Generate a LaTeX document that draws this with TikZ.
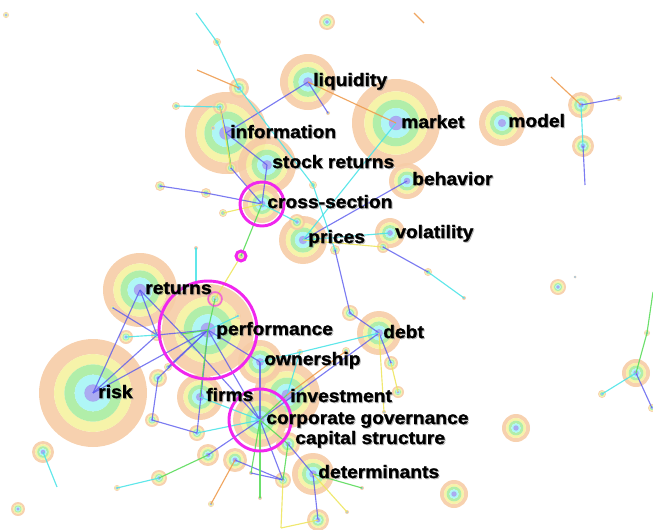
\documentclass[tikz,border=0pt]{standalone}
\usepackage{fontspec}
\newfontfamily\labfont{Liberation Sans}[FakeStretch=1.07,BoldFeatures={FakeBold=1.3}]
\definecolor{rpeach}{HTML}{F6CCA6}
\definecolor{ryellow}{HTML}{F5F2A0}
\definecolor{rgreen}{HTML}{A8ECA0}
\definecolor{rcyan}{HTML}{A6F5F5}
\definecolor{rpurple}{HTML}{A2A2F0}
\definecolor{eblue}{HTML}{5A5AEE}
\definecolor{ecyan}{HTML}{4EE4E8}
\definecolor{egreen}{HTML}{5CDC5C}
\definecolor{eyellow}{HTML}{EEE660}
\definecolor{eorange}{HTML}{EE9C50}
\definecolor{burst}{HTML}{F026EE}
% concentric time-slice rings of one keyword
\newcommand\bubble[2]{%
  \begin{scope}[fill opacity=0.9]
  \fill[rpeach,even odd rule] (#1) circle[radius=#2] circle[radius=0.72*#2];
  \fill[ryellow,even odd rule] (#1) circle[radius=0.72*#2] circle[radius=0.53*#2];
  \fill[rgreen,even odd rule] (#1) circle[radius=0.53*#2] circle[radius=0.34*#2];
  \fill[rcyan,even odd rule] (#1) circle[radius=0.34*#2] circle[radius=0.15*#2];
  \fill[rpurple] (#1) circle[radius=0.15*#2+0.6];
  \end{scope}}
\begin{document}
\begin{tikzpicture}[x=0.75pt,y=-0.75pt,
  lab/.style={anchor=base west,inner sep=0pt,text=black,
    font=\labfont\bfseries\fontsize{13.5}{16}\selectfont},
  labshade/.style={lab,text=black!45,text opacity=0.55},
  ebl/.style={draw=eblue,line width=0.85pt,opacity=0.8},
  ecy/.style={draw=ecyan,line width=0.85pt,opacity=0.9},
  egr/.style={draw=egreen,line width=0.85pt,opacity=0.9},
  eye/.style={draw=eyellow,line width=0.85pt,opacity=0.9},
  eor/.style={draw=eorange,line width=0.85pt,opacity=0.9},
  burstring/.style={draw=burst,line width=2.2pt}]
\useasboundingbox (0,0) rectangle (653,529);
% ---- keyword positions
\coordinate (liq) at (308,82);
\coordinate (info) at (226,133);
\coordinate (mkt) at (396,123);
\coordinate (model) at (502,123);
\coordinate (stock) at (267,165);
\coordinate (cross) at (262,204);
\coordinate (behav) at (407,181);
\coordinate (prices) at (303,240);
\coordinate (volat) at (390,233);
\coordinate (returns) at (140,290);
\coordinate (perf) at (208,330);
\coordinate (risk) at (93,393);
\coordinate (owner) at (260,362);
\coordinate (firms) at (200,397);
\coordinate (invest) at (287,395);
\coordinate (cg) at (260,420);
\coordinate (capstr) at (288,444);
\coordinate (determ) at (313,474);
\coordinate (debt) at (379,333);
% ---- minor keywords
\coordinate (a1) at (327,22);
\coordinate (a2) at (6,15);
\coordinate (a3) at (217,42);
\coordinate (a4) at (239,88);
\coordinate (a5) at (220,107);
\coordinate (a6) at (176,106);
\coordinate (a7) at (213,128);
\coordinate (a8) at (231,168);
\coordinate (a9) at (160,186);
\coordinate (a10) at (206,193);
\coordinate (a11) at (223,213);
\coordinate (a12) at (313,185);
\coordinate (a13) at (297,222);
\coordinate (a14) at (196,248);
\coordinate (a15) at (328,113);
\coordinate (a16) at (241,256);
\coordinate (a17) at (215,299);
\coordinate (a18) at (335,250);
\coordinate (a19) at (383,247);
\coordinate (a20) at (350,313);
\coordinate (a21) at (428,272);
\coordinate (a22) at (464,298);
\coordinate (a23) at (391,363);
\coordinate (a24) at (398,392);
\coordinate (a25) at (346,351);
\coordinate (a26) at (384,412);
\coordinate (a27) at (581,105);
\coordinate (a28) at (619,98);
\coordinate (a29) at (583,146);
\coordinate (a30) at (585,185);
\coordinate (a31) at (551,77);
\coordinate (a32) at (414,13);
\coordinate (a32b) at (424,23);
\coordinate (a33) at (558,287);
\coordinate (a34) at (575,277);
\coordinate (a35) at (636,373);
\coordinate (a36) at (647,333);
\coordinate (a37) at (602,394);
\coordinate (a38) at (652,408);
\coordinate (a39) at (653,292);
\coordinate (a40) at (516,428);
\coordinate (a41) at (454,494);
\coordinate (a42) at (43,452);
\coordinate (a43) at (57,487);
\coordinate (a44) at (18,509);
\coordinate (a45) at (113,308);
\coordinate (a46) at (126,337);
\coordinate (a47) at (157,335);
\coordinate (a48) at (158,378);
\coordinate (a49) at (168,367);
\coordinate (a50) at (152,420);
\coordinate (a51) at (197,433);
\coordinate (a52) at (208,455);
\coordinate (a53) at (235,460);
\coordinate (a54) at (159,478);
\coordinate (a55) at (117,488);
\coordinate (a56) at (211,504);
\coordinate (a57) at (283,480);
\coordinate (a58) at (260,498);
\coordinate (a59) at (251,473);
\coordinate (a60) at (318,520);
\coordinate (a61) at (362,488);
\coordinate (a62) at (347,512);
\coordinate (a63) at (281,528);
\coordinate (a64) at (196,13);
\coordinate (a65) at (197,70);
\coordinate (a66) at (300,352);
\coordinate (a67) at (196,283);
\coordinate (a68) at (238,316);
\coordinate (a69) at (182,334);
% ---- rings, largest first
\bubble{risk}{54}
\bubble{mkt}{44}
\bubble{info}{41}
\bubble{returns}{37}
\bubble{perf}{46}
\bubble{invest}{33}
\bubble{stock}{29}
\bubble{liq}{28}
\bubble{cg}{27}
\bubble{prices}{24}
\bubble{model}{23}
\bubble{firms}{23}
\bubble{owner}{22}
\bubble{debt}{22}
\bubble{determ}{21}
\bubble{cross}{19}
\bubble{behav}{18}
\bubble{volat}{15}
\bubble{capstr}{12}
\foreach \n/\r in {a1/8,a2/3,a3/4,a4/10,a5/7,a6/4,a7/2,a8/6,a9/5,a10/5,a11/4,
  a12/4,a13/8,a14/2,a15/2,a16/4,a17/7,a18/5,a19/6,a20/8,a21/4,a22/2,a23/7,
  a24/6,a25/4,a26/2,a27/13,a28/3,a29/11,a33/8,a34/1.5,a35/14,a36/3,a37/4,
  a38/4,a40/14,a41/14,a42/11,a44/7,a45/3,a46/7,a47/6,a48/9,a49/4,a50/7,
  a51/8,a52/11,a53/12,a54/8,a55/3,a56/3,a57/8,a58/2,a59/2,a60/11,a61/2,
  a62/2,a66/3,a68/3,a69/4}
  {\bubble{\n}{\r}}
% ---- co-occurrence links
\foreach \p/\q in {liq/info,liq/a15,info/stock,info/a5,info/a8,a8/cross,
  stock/cross,a9/a10,a10/cross,behav/prices,a18/a20,a20/debt,a19/a21,
  a27/a28,a29/a30,a35/a38,returns/risk,returns/a47,a45/a47,a47/perf,
  risk/perf,a48/perf,a48/a50,a50/a51,a49/perf,perf/owner,perf/cg,
  owner/cg,cg/a52,cg/a57,a53/a57,a59/a57,determ/a60,capstr/determ,
  debt/cg,debt/a23,perf/a51,returns/a69,a69/cg,risk/a47}
  {\draw[ebl] (\p) -- (\q);}
\foreach \p/\q in {a64/a3,a3/a4,a4/a12,a12/a18,a5/a6,mkt/prices,
  prices/volat,a21/a22,a27/a29,a35/a37,a42/a43,a46/a47,a51/cg,firms/cg,
  a54/a55,debt/owner,a14/a67,cross/a13,a66/invest,a68/perf}
  {\draw[ecy] (\p) -- (\q);}
\foreach \p/\q in {info/a8,cross/a16,a35/a36,a36/a39,perf/firms,
  perf/a17,a52/a54,a57/capstr,determ/a61,cg/a59,cg/a58,invest/cg,
  cg/capstr,perf/a69}
  {\draw[egr] (\p) -- (\q);}
\foreach \p/\q in {a11/cross,a16/a17,prices/a19,a57/a63,a63/a60,
  determ/a62,a23/a24,debt/a26,a5/a8}
  {\draw[eye] (\p) -- (\q);}
\foreach \p/\q in {a65/a4,liq/mkt,a32/a32b,a31/a27,a53/a56,a25/invest}
  {\draw[eor] (\p) -- (\q);}
% ---- burst markers
\draw[burstring] (cross) circle[radius=22];
\draw[burstring] (perf) circle[radius=49];
\draw[burstring] (cg) circle[radius=31];
\draw[burstring] (a16) circle[radius=5];
\draw[burstring,line width=1.2pt,opacity=0.6] (a17) circle[radius=7];
% ---- labels, each over a faint soft shadow
\foreach \t/\x/\y/\nm in {liquidity/313/86/Lliq,information/230/138/Linfo,
  market/401/128/Lmkt,model/508/127/Lmodel,stock returns/272/168/Lstock,
  cross-section/267/208/Lcross,behavior/412/185/Lbehav,prices/308/243/Lprices,
  volatility/395/238/Lvolat,returns/145/294/Lreturns,performance/216/335/Lperf,
  risk/98/398/Lrisk,ownership/264/365/Lowner,firms/206/401/Lfirms,
  investment/290/402/Linvest,corporate governance/266/424/Lcg,
  capital structure/295/444/Lcap,determinants/318/478/Ldeterm,debt/383/338/Ldebt}
  {\node[labshade] (\nm s) at (\x+1,\y+1) {\t};
   \node[lab] (\nm) at (\x,\y) {\t};}
\end{tikzpicture}
\end{document}
